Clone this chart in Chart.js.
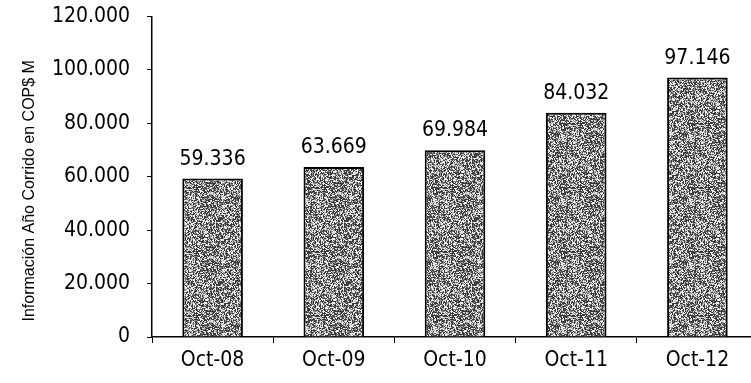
<!DOCTYPE html>
<html>
<head>
<meta charset="utf-8">
<script src="https://cdn.jsdelivr.net/npm/chart.js@4/dist/chart.umd.min.js"></script>
<style>
  html, body { margin: 0; padding: 0; background: #fff; overflow: hidden; }
  #wrap { width: 760px; height: 396px; margin-top: -13px; }
</style>
</head>
<body>
<div id="wrap"><canvas id="salesChart" width="760" height="396"></canvas></div>
<script>
const categories = ['Oct-08', 'Oct-09', 'Oct-10', 'Oct-11', 'Oct-12'];
const values = [59336, 63669, 69984, 84032, 97146];
const yTicks = [0, 20000, 40000, 60000, 80000, 100000, 120000];
const yTitle = 'Información Año Corrido en COP$ M';

const fontFam = '"DejaVu Sans Condensed", "DejaVu Sans", sans-serif';
const fmt = (v) => v.toLocaleString('de-DE');

// speckled grey fill like the scanned original (fixed seed, style only)
function makeSpeckle() {
    const c = document.createElement('canvas');
    c.width = 64; c.height = 64;
    const g = c.getContext('2d');
    const img = g.createImageData(64, 64);
    let s = 12345;
    for (let i = 0; i < 64 * 64; i++) {
        s = (s * 1103515245 + 12345) & 0x7fffffff;
        const r = (s >> 8) % 100;
        const v = r < 42 ? 60 : (r < 65 ? 145 : 235);
        img.data[i * 4] = v; img.data[i * 4 + 1] = v; img.data[i * 4 + 2] = v; img.data[i * 4 + 3] = 255;
    }
    g.putImageData(img, 0, 0);
    return g.createPattern(c, 'repeat');
}

const ctx = document.getElementById('salesChart').getContext('2d');

const valueLabels = {
    id: 'valueLabels',
    afterDatasetsDraw(chart) {
        const c = chart.ctx;
        const meta = chart.getDatasetMeta(0);
        c.save();
        c.font = '21px ' + fontFam;
        c.fillStyle = '#000';
        c.textAlign = 'center';
        c.textBaseline = 'alphabetic';
        meta.data.forEach((bar, i) => {
            c.fillText(fmt(values[i]), bar.x, bar.y - 14);
        });
        // y axis title, centred a bit below the middle of the plot like the original
        const a = chart.chartArea;
        c.translate(30, (a.top + a.bottom) / 2 + 14);
        c.rotate(-Math.PI / 2);
        c.font = '16px "Liberation Sans", Arial, sans-serif';
        c.textBaseline = 'middle';
        c.fillText(yTitle, 0, 0);
        c.restore();
    }
};

const chart = new Chart(ctx, {
    type: 'bar',
    data: {
        labels: categories,
        datasets: [{
            data: values,
            backgroundColor: makeSpeckle(),
            borderColor: '#000',
            borderWidth: 2,
            barPercentage: 0.5,
            categoryPercentage: 1.0
        }]
    },
    options: {
        responsive: false,
        animation: false,
        layout: { padding: { top: 3, right: 2, left: 0, bottom: 0 } },
        plugins: { legend: { display: false }, tooltip: { enabled: false } },
        scales: {
            y: {
                min: 0, max: 120000,
                afterBuildTicks: (s) => { s.ticks = yTicks.map(v => ({ value: v })); },
                afterFit: (s) => { s.width = 152; },
                border: { display: true, color: '#000', width: 1.5 },
                grid: { drawOnChartArea: false, drawTicks: true, tickLength: 5, color: '#000' },
                ticks: {
                    color: '#000', padding: 17,
                    font: { family: fontFam, size: 21 },
                    callback: (v) => fmt(v)
                }
            },
            x: {
                afterFit: (s) => { s.height = 46; },
                border: { display: true, color: '#000', width: 1.5 },
                grid: { drawOnChartArea: false, drawTicks: true, tickLength: 6, color: '#000', offset: true },
                ticks: {
                    color: '#000', padding: 5,
                    font: { family: fontFam, size: 21 }
                }
            }
        }
    },
    plugins: [valueLabels]
});
</script>
</body>
</html>
